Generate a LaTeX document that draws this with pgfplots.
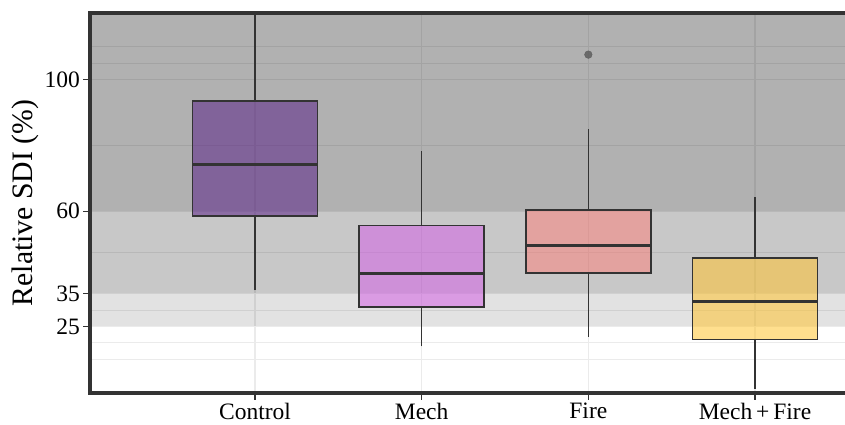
\documentclass[border=0pt]{standalone}
\usepackage{fontspec}
\setmainfont{Liberation Serif}
\usepackage{pgfplots}
\pgfplotsset{compat=1.18}

\definecolor{framec}{HTML}{333333}
\definecolor{gridc}{HTML}{EBEBEB}
\definecolor{ctrl}{HTML}{5B2387}
\definecolor{mech}{HTML}{D362E5}
\definecolor{fire}{HTML}{F9837D}
\definecolor{mfire}{HTML}{FFC431}
\definecolor{outl}{HTML}{5E5E5E}

% box: lower whisker, lower quartile, median, upper quartile, upper whisker
% Control 36.0 58.5 74.2 93.6 120.25 | Mech 18.9 30.9 41.0 55.7 78.2
% Fire 21.8 41.2 49.5 60.3 85.0 (outlier 107.6) | Mech+Fire 6.0 21.0 32.6 45.8 64.3

\begin{document}
\begin{tikzpicture}
\begin{axis}[
  scale only axis, width=755pt, height=380pt,
  xmin=0.01, xmax=4.54, ymin=4.75, ymax=120.25,
  clip=false,
  axis line style={draw=none},
  xtick={1,2,3,4},
  xticklabels={Control,Mech,Fire,Mech\,+\,Fire},
  ytick={25,35,60,100}, yticklabels={25,35,60,100},
  minor ytick={15,20,30,47.5,80,105,110},
  xmajorgrids, ymajorgrids, yminorgrids,
  major grid style={gridc, line width=1.2pt},
  minor grid style={gridc, line width=0.8pt},
  tick align=outside, xtick pos=bottom, ytick pos=left,
  major tick length=6.5pt,
  major tick style={framec, line width=1.1pt},
  minor tick style={draw=none},
  tick label style={font=\fontsize{23.5}{28}\selectfont, text=black},
  ylabel={Relative SDI (\%)},
  every axis y label/.style={at={(axis description cs:-0.0861,0.5)}, rotate=90,
    anchor=center, font=\fontsize{29.7}{34}\selectfont},
  whisk/.style={framec, line width=1.5pt, forget plot},
  med/.style={framec, line width=3.2pt, forget plot},
  box/.style={draw=framec, line width=1.7pt, fill opacity=0.55, forget plot},
]
% shaded bands
\addplot[draw=none, fill=black, fill opacity=0.115] coordinates {(0.01,25) (4.54,25) (4.54,120.25) (0.01,120.25)} -- cycle;
\addplot[draw=none, fill=black, fill opacity=0.115] coordinates {(0.01,35) (4.54,35) (4.54,120.25) (0.01,120.25)} -- cycle;
\addplot[draw=none, fill=black, fill opacity=0.115] coordinates {(0.01,60) (4.54,60) (4.54,120.25) (0.01,120.25)} -- cycle;

% Control
\addplot[whisk] coordinates {(1,36.0) (1,58.5)};
\addplot[whisk] coordinates {(1,93.6) (1,120.25)};
\addplot[box, fill=ctrl] coordinates {(0.625,58.5) (1.375,58.5) (1.375,93.6) (0.625,93.6)} -- cycle;
\addplot[med] coordinates {(0.625,74.2) (1.375,74.2)};
% Mech
\addplot[whisk] coordinates {(2,18.9) (2,30.9)};
\addplot[whisk] coordinates {(2,55.7) (2,78.2)};
\addplot[box, fill=mech] coordinates {(1.625,30.9) (2.375,30.9) (2.375,55.7) (1.625,55.7)} -- cycle;
\addplot[med] coordinates {(1.625,41.0) (2.375,41.0)};
% Fire
\addplot[whisk] coordinates {(3,21.8) (3,41.2)};
\addplot[whisk] coordinates {(3,60.3) (3,85.0)};
\addplot[box, fill=fire] coordinates {(2.625,41.2) (3.375,41.2) (3.375,60.3) (2.625,60.3)} -- cycle;
\addplot[med] coordinates {(2.625,49.5) (3.375,49.5)};
\addplot[only marks, mark=*, mark size=3.8pt, draw=outl, fill=outl, fill opacity=0.85] coordinates {(3,107.6)};
% Mech+Fire
\addplot[whisk] coordinates {(4,6.0) (4,21.0)};
\addplot[whisk] coordinates {(4,45.8) (4,64.3)};
\addplot[box, fill=mfire] coordinates {(3.625,21.0) (4.375,21.0) (4.375,45.8) (3.625,45.8)} -- cycle;
\addplot[med] coordinates {(3.625,32.6) (4.375,32.6)};

% panel border (left, top, bottom)
\draw[framec, line width=3.5pt] (axis cs:4.54,120.25) -- (axis cs:0.01,120.25)
  -- (axis cs:0.01,4.75) -- (axis cs:4.54,4.75);
\end{axis}
\pgfresetboundingbox
\path[use as bounding box] (-90pt,-31pt) rectangle (755pt,393pt);
\end{tikzpicture}
\end{document}
